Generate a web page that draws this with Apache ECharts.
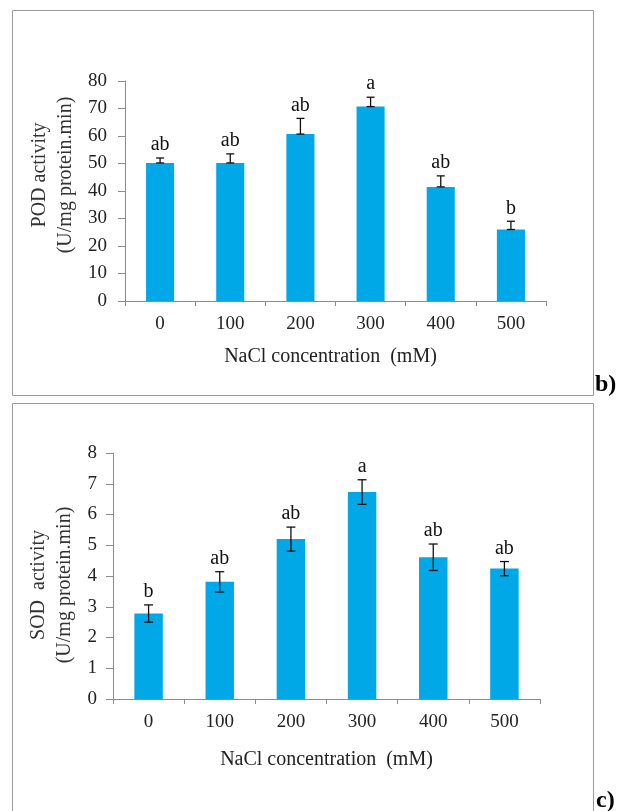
<!DOCTYPE html>
<html>
<head>
<meta charset="utf-8">
<script src="https://cdn.jsdelivr.net/npm/echarts@6/dist/echarts.min.js"></script>
<style>
  html, body { margin: 0; padding: 0; background: #fff; }
  #chart { width: 619px; height: 811px; }
</style>
</head>
<body>
<div id="chart"></div>
<script>
// NaCl treatment levels (mM)
const categories = ['0', '100', '200', '300', '400', '500'];

// Peroxidase activity (U/mg protein.min), mean and standard error
const podValues = [50.2, 50.2, 60.7, 70.7, 41.5, 26.0];
const podErrors = [1.8, 3.3, 5.7, 3.4, 4.0, 3.0];
const podLetters = ['ab', 'ab', 'ab', 'a', 'ab', 'b'];

// Superoxide dismutase activity (U/mg protein.min), mean and standard error
const sodValues = [2.78, 3.81, 5.20, 6.73, 4.61, 4.24];
const sodErrors = [0.28, 0.33, 0.39, 0.40, 0.43, 0.23];
const sodLetters = ['b', 'ab', 'ab', 'a', 'ab', 'ab'];

const SERIF = '"Liberation Serif", "Times New Roman", serif';
const BAR_COLOR = '#00a8e8';
const AXIS_COLOR = '#8c8c8c';

// Error bar with caps plus the significance letter above it
function errorBarRenderer(letters, capHalf) {
  return function (params, api) {
    const i = api.value(0);
    const lo = api.coord([i, api.value(1)]);
    const hi = api.coord([i, api.value(2)]);
    const line = { stroke: '#111', lineWidth: 1.3 };
    return {
      type: 'group',
      children: [
        { type: 'line', shape: { x1: hi[0], y1: hi[1], x2: lo[0], y2: lo[1] }, style: line },
        { type: 'line', shape: { x1: hi[0] - capHalf, y1: hi[1], x2: hi[0] + capHalf, y2: hi[1] }, style: line },
        { type: 'line', shape: { x1: lo[0] - capHalf, y1: lo[1], x2: lo[0] + capHalf, y2: lo[1] }, style: line },
        {
          type: 'text', x: hi[0], y: hi[1] - 3,
          style: {
            text: letters[params.dataIndex], fill: '#111',
            font: '20px ' + SERIF, align: 'center', verticalAlign: 'bottom'
          }
        }
      ]
    };
  };
}

function xAxisFor(gridIndex, gap, pad) {
  return {
    type: 'category', gridIndex, data: categories,
    name: 'NaCl concentration  (mM)', nameLocation: 'middle', nameGap: gap,
    nameTextStyle: { fontFamily: SERIF, fontSize: 20, color: '#222', padding: pad },
    axisLine: { lineStyle: { color: AXIS_COLOR, width: 1 } },
    axisTick: { show: true, inside: false, length: 5, lineStyle: { color: AXIS_COLOR } },
    axisLabel: { fontFamily: SERIF, fontSize: 19, color: '#222', margin: 14 },
    splitLine: { show: false }
  };
}

function yAxisFor(gridIndex, max, interval, margin) {
  return {
    type: 'value', gridIndex, min: 0, max, interval,
    axisLine: { show: true, lineStyle: { color: AXIS_COLOR, width: 1 } },
    axisTick: { show: true, inside: false, length: 7, lineStyle: { color: AXIS_COLOR } },
    axisLabel: { fontFamily: SERIF, fontSize: 19, color: '#222', margin },
    splitLine: { show: false }
  };
}

const chart = echarts.init(document.getElementById('chart'), null, { renderer: 'canvas' });

chart.setOption({
  animation: false,
  backgroundColor: '#fff',
  grid: [
    { left: 125, right: 73, top: 81, height: 220 },
    { left: 113, right: 79, top: 453, height: 246 }
  ],
  xAxis: [xAxisFor(0, 46, [0, 10, 0, 0]), xAxisFor(1, 51, 0)],
  yAxis: [yAxisFor(0, 80, 10, 18), yAxisFor(1, 8, 1, 16)],
  graphic: [
    // panel frames
    { type: 'rect', shape: { x: 12.5, y: 10.5, width: 581, height: 385 },
      style: { fill: 'none', stroke: '#9a9a9a', lineWidth: 1 }, silent: true },
    { type: 'rect', shape: { x: 12.5, y: 403.5, width: 581, height: 412 },
      style: { fill: 'none', stroke: '#9a9a9a', lineWidth: 1 }, silent: true },
    // panel tags
    { type: 'text', x: 595, y: 397,
      style: { text: 'b)', font: 'bold 24px ' + SERIF, fill: '#000', verticalAlign: 'bottom' } },
    { type: 'text', x: 596, y: 813,
      style: { text: 'c)', font: 'bold 24px ' + SERIF, fill: '#000', verticalAlign: 'bottom' } },
    // y-axis titles
    { type: 'text', x: 53, y: 175, rotation: Math.PI / 2,
      style: { text: 'POD activity\n(U/mg protein.min)', font: '20px ' + SERIF, lineHeight: 26,
               fill: '#333', align: 'center', verticalAlign: 'middle' } },
    { type: 'text', x: 52, y: 585, rotation: Math.PI / 2,
      style: { text: 'SOD  activity\n(U/mg protein.min)', font: '20px ' + SERIF, lineHeight: 26,
               fill: '#333', align: 'center', verticalAlign: 'middle' } }
  ],
  series: [
    {
      type: 'bar', xAxisIndex: 0, yAxisIndex: 0, barWidth: '40%',
      itemStyle: { color: BAR_COLOR }, data: podValues
    },
    {
      type: 'custom', xAxisIndex: 0, yAxisIndex: 0, z: 5,
      renderItem: errorBarRenderer(podLetters, 4),
      encode: { x: 0, y: [1, 2] },
      data: podValues.map((v, i) => [i, v, v + podErrors[i]])
    },
    {
      type: 'bar', xAxisIndex: 1, yAxisIndex: 1, barWidth: '40%',
      itemStyle: { color: BAR_COLOR }, data: sodValues
    },
    {
      type: 'custom', xAxisIndex: 1, yAxisIndex: 1, z: 5,
      renderItem: errorBarRenderer(sodLetters, 4.5),
      encode: { x: 0, y: [1, 2] },
      data: sodValues.map((v, i) => [i, v - sodErrors[i], v + sodErrors[i]])
    }
  ]
});
</script>
</body>
</html>
